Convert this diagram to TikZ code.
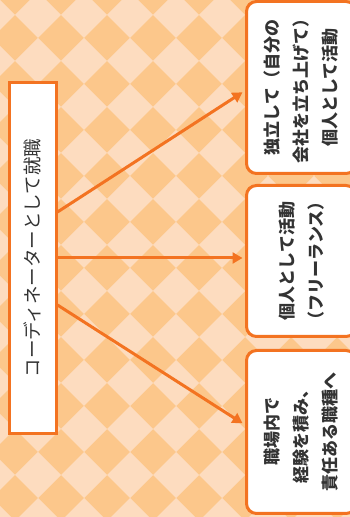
\documentclass[tikz,border=0pt]{standalone}
\usepackage{fontspec}
\setmainfont{Noto Sans CJK JP}
\usepackage{tikz}
\usetikzlibrary{arrows.meta, positioning, calc}
\definecolor{peachlight}{HTML}{FDDCBF}
\definecolor{peachdark}{HTML}{FCC78B}
\definecolor{lineorange}{HTML}{F37321}
\definecolor{textgray}{HTML}{333333}

\begin{document}
\begin{tikzpicture}[x=1pt, y=1pt,
    startbox/.style={draw=lineorange, line width=3pt, fill=white, rotate=90, text=textgray, font=\fontsize{18.5}{22}\selectfont},
    pathbox/.style={draw=lineorange, line width=3pt, fill=white, rounded corners=10pt, rotate=90, minimum height=109.5pt, align=center, text=textgray, font=\fontsize{17}{29}\selectfont\bfseries},
    flow/.style={-{Triangle[length=10pt, width=11pt]}, line width=3pt, lineorange}]
            % Background
            \clip (0,0) rectangle (350,517);
            \fill[peachdark] (0,0) rectangle (350,517);
            \foreach \i in {-1,...,7}
              \foreach \j in {-1,...,11}
                \fill[peachlight] (38+46*\i, 502-46*\j) +(-23,0) -- +(0,23) -- +(23,0) -- +(0,-23) -- cycle;

            % Boxes
            \node[startbox, minimum width=351pt, minimum height=46.5pt] (job) at (32.75,259) {コーディネーターとして就職};
            \node[pathbox, minimum width=172pt] (indep) at (301.25,429.5) {独立して（自分の\\会社を立ち上げて）\\個人として活動};
            \node[pathbox, minimum width=151pt] (freelance) at (301.25,256) {個人として活動\\（フリーランス）};
            \node[pathbox, minimum width=163pt] (career) at (301.25,85) {職場内で\\経験を積み、\\責任ある職種へ};

            % Arrows
            \draw[flow] ($(job.south)+(0,46)$) -- ($(indep.north)+(-2.5,-4.8)$);
            \draw[flow] (job.south) -- ($(freelance.north)+(-2.5,3)$);
            \draw[flow] ($(job.south)+(0,-47)$) -- ($(career.north)+(-2.5,8.7)$);
\end{tikzpicture}
\end{document}
